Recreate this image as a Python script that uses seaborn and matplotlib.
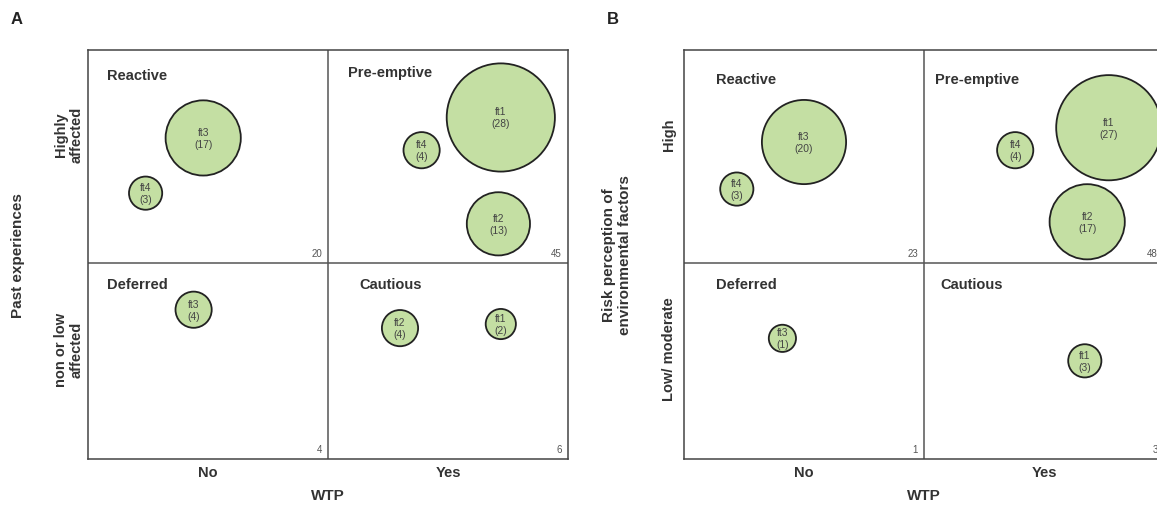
"""Bubble quadrant charts: farm types by WTP vs past experience / risk perception."""

import matplotlib

matplotlib.use("Agg")
import matplotlib.pyplot as plt
import pandas as pd
import seaborn as sns

# Panel A: past experiences x WTP
A_TYPES = ["ft3", "ft4", "ft1", "ft4", "ft2", "ft3", "ft2", "ft1"]
A_COUNTS = [17, 3, 28, 4, 13, 4, 4, 2]
A_WTP = [0.48, 0.24, 1.72, 1.39, 1.71, 0.44, 1.30, 1.72]
A_LEVEL = [1.57, 1.30, 1.67, 1.51, 1.15, 0.73, 0.64, 0.66]
A_TOTALS = [20, 45, 4, 6]  # Reactive, Pre-emptive, Deferred, Cautious

# Panel B: risk perception of environmental factors x WTP
B_TYPES = ["ft3", "ft4", "ft4", "ft1", "ft2", "ft3", "ft1"]
B_COUNTS = [20, 3, 4, 27, 17, 1, 3]
B_WTP = [0.50, 0.22, 1.38, 1.77, 1.68, 0.41, 1.67]
B_LEVEL = [1.55, 1.32, 1.51, 1.62, 1.16, 0.59, 0.48]
B_TOTALS = [23, 48, 1, 3]

QUADRANTS = ["Reactive", "Pre-emptive", "Deferred", "Cautious"]
WTP_TICKS = ["No", "Yes"]
A_ROWS = ["Highly\naffected", "non or low\naffected"]
B_ROWS = ["High", "Low/ moderate"]
A_YLABEL = "Past experiences"
B_YLABEL = "Risk perception of\nenvironmental factors"

DPI = 100
GREEN = "#C4DFA3"
EDGE = "#222222"
TEXT = "#333333"
Y_SPLIT = 0.958  # lower quadrants are a bit shorter than upper ones


def bubble_area(n: int) -> float:
    # radius in pixels grows with the count, converted to marker area (pt^2)
    r_px = 13 + 1.5 * n - 0.9
    d_pt = 2 * r_px * 72 / DPI
    return d_pt ** 2


def make_frame(types, counts, wtp, level) -> pd.DataFrame:
    return pd.DataFrame({"type": types, "n": counts, "wtp": wtp, "level": level})


def draw_panel(ax, data, totals, title_pos, rows, ylabel, ylabel_x, ypad):
    sizes = {n: bubble_area(n) for n in data["n"].unique()}
    sns.scatterplot(
        data=data, x="wtp", y="level", size="n", sizes=sizes,
        color=GREEN, edgecolor=EDGE, linewidth=1.3, alpha=1,
        legend=False, ax=ax, zorder=3,
    )
    for _, row in data.iterrows():
        ax.text(row["wtp"], row["level"], f"{row['type']}\n({row['n']})",
                ha="center", va="center", fontsize=7.4, color="#444444",
                linespacing=1.25, zorder=4)

    ax.axvline(1, color="#555555", lw=1.1, zorder=1)
    ax.axhline(Y_SPLIT, color="#555555", lw=1.1, zorder=1)

    for name, (tx, ty) in zip(QUADRANTS, title_pos):
        ax.text(tx, ty, name, ha="left", va="center", fontsize=10.5,
                fontweight="bold", color=TEXT)

    corners = [(1, Y_SPLIT), (2, Y_SPLIT), (1, 0), (2, 0)]
    for total, xy in zip(totals, corners):
        ax.annotate(str(total), xy=xy, xytext=(-6, 5), textcoords="offset pixels",
                    ha="right", va="bottom", fontsize=7, color="#555555")

    ax.set_xlim(0, 2)
    ax.set_ylim(0, 2)
    ax.set_xticks([0.5, 1.5], WTP_TICKS)
    ax.set_yticks([0.54, 1.59], [rows[1], rows[0]])
    ax.tick_params(axis="x", length=0, pad=4, labelsize=10.5, labelcolor=TEXT)
    ax.tick_params(axis="y", length=0, pad=ypad, labelsize=10.5, labelcolor=TEXT)
    for lab in ax.get_xticklabels():
        lab.set_fontweight("bold")
    for lab in ax.get_yticklabels():
        lab.set_fontweight("bold")
        lab.set_rotation(90)
        lab.set_va("center")
        lab.set_multialignment("center")

    ax.set_xlabel("WTP", fontsize=11, fontweight="bold", color=TEXT)
    ax.xaxis.set_label_coords(0.5, -0.072)
    ax.set_ylabel(ylabel, fontsize=11, fontweight="bold", color=TEXT)
    ax.yaxis.set_label_coords(ylabel_x, 0.5)

    for spine in ax.spines.values():
        spine.set_visible(True)
        spine.set_color("#444444")
        spine.set_linewidth(1.1)


sns.set_theme(style="white")
plt.rcParams["font.family"] = ["Liberation Sans", "DejaVu Sans"]

fig = plt.figure(figsize=(11.57, 5.06), dpi=DPI)
W, H = 1157, 506
ax_a = fig.add_axes([88 / W, 46 / H, 480 / W, 409 / H])
ax_b = fig.add_axes([684 / W, 46 / H, 480 / W, 409 / H])

draw_panel(
    ax_a, make_frame(A_TYPES, A_COUNTS, A_WTP, A_LEVEL), A_TOTALS,
    [(0.079, 1.878), (1.083, 1.892), (0.079, 0.856), (1.129, 0.856)],
    A_ROWS, A_YLABEL, -0.131, 3,
)
draw_panel(
    ax_b, make_frame(B_TYPES, B_COUNTS, B_WTP, B_LEVEL), B_TOTALS,
    [(0.133, 1.858), (1.046, 1.858), (0.133, 0.856), (1.067, 0.856)],
    B_ROWS, B_YLABEL, -0.108, 6,
)

fig.text(17 / W, 1 - 19 / H, "A", ha="center", va="center", fontsize=12,
         fontweight="bold", color="#222222")
fig.text(613 / W, 1 - 19 / H, "B", ha="center", va="center", fontsize=12,
         fontweight="bold", color="#222222")

fig.savefig("out.png", dpi=DPI)
